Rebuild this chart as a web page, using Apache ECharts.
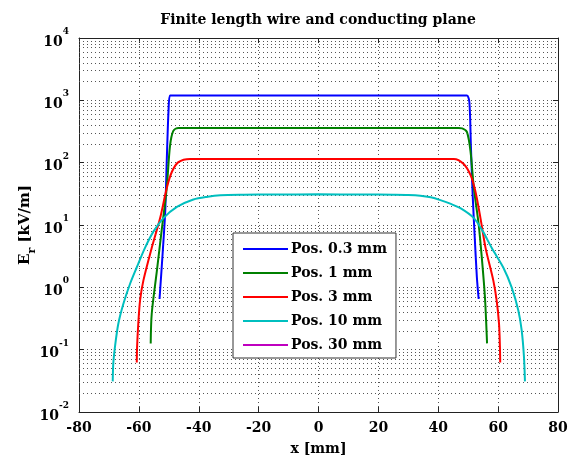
<!DOCTYPE html>
<html>
<head>
<meta charset="utf-8">
<script src="https://cdn.jsdelivr.net/npm/echarts@6/dist/echarts.min.js"></script>
<style>
  html, body { margin: 0; padding: 0; background: #fff; }
  #chart { width: 575px; height: 461px; }
</style>
</head>
<body>
<div id="chart"></div>
<script>
// Radial field along the wire for several probe positions
const seriesNames = ['Pos. 0.3 mm', 'Pos. 1 mm', 'Pos. 3 mm', 'Pos. 10 mm', 'Pos. 30 mm'];
const seriesColors = ['#0000ff', '#008000', '#ff0000', '#00bfbf', '#bf00bf'];

const xPos03 = [-53.1, -52.0, -51.2, -50.7, -50.1, -49.6, -48.5, 0, 48.5, 49.6, 50.4, 50.9, 51.5, 52.2, 52.9, 53.5];
const yPos03 = [0.65, 3.9, 16.6, 102, 676, 1200, 1200, 1200, 1200, 1200, 933, 186, 30, 6.2, 1.45, 0.65];

const xPos1 = [-56.05, -55.7, -54.0, -52.3, -50.7, -49.6, -48.5, -46.8, 0, 46.8, 48.0, 49.6, 50.8, 51.9, 53.5, 54.6, 55.6, 56.3];
const yPos1 = [0.126, 0.38, 1.82, 8.9, 38.9, 186, 324, 360, 360, 360, 355, 309, 148, 38.9, 10.2, 2.8, 0.69, 0.126];

const xPos3 = [-60.7, -60.6, -60.2, -59.6, -58.5, -55.7, -52.9, -50.7, -49.0, -46.8, -42.9, 0,
  45.2, 48.5, 50.8, 52.4, 54.1, 55.8, 58.4, 59.5, 60.3, 60.6, 60.7];
const yPos3 = [0.062, 0.11, 0.26, 0.62, 1.28, 4.3, 12.9, 38.9, 70.8, 102, 115, 115,
  115, 95.5, 63, 34.7, 12.9, 4.3, 1.28, 0.62, 0.26, 0.11, 0.062];

const xPos10 = [-68.74, -68.54, -67.98, -66.87, -65.2, -62.97, -60.73, -57.96, -55.1, -51.8, -47.3, -41.8, -37.0, -32.8, -25, -15, 0,
  15, 25, 30, 34.0, 37.5, 40.7, 44.0, 47.4, 51.9, 54.9, 57.84, 61.72, 64.52, 66.73, 67.86, 68.63, 68.96];
const yPos10 = [0.031, 0.061, 0.112, 0.26, 0.54, 1.13, 2.08, 4.3, 7.9, 12.9, 19.5, 25.7, 28.5, 30.0, 30.6, 30.9, 31,
  30.9, 30.6, 30.3, 29.5, 27.8, 25.1, 22.0, 18.6, 12.9, 7.9, 4.3, 2.08, 1.0, 0.43, 0.205, 0.077, 0.031];

const xPos30 = [];
const yPos30 = [];

const decades = [-2, -1, 0, 1, 2, 3, 4];

const xs = [xPos03, xPos1, xPos3, xPos10, xPos30];
const ys = [yPos03, yPos1, yPos3, yPos10, yPos30];

// minor log grid lines at 2..9 x 10^k
const minorValues = [];
decades.slice(0, -1).forEach(function (k) {
  for (let m = 2; m <= 9; m++) minorValues.push(m * Math.pow(10, k));
});

const FONT = 'DejaVu Serif';
const dotted = { color: '#555', width: 1, type: [1, 3] };

const series = seriesNames.map(function (name, i) {
  const s = {
    name: name,
    type: 'line',
    xAxisIndex: 0,
    yAxisIndex: 0,
    symbol: 'none',
    smooth: 0.3,
    lineStyle: { color: seriesColors[i], width: 2 },
    itemStyle: { color: seriesColors[i] },
    data: xs[i].map(function (x, j) { return [x, ys[i][j]]; }),
    z: 3
  };
  if (i === 0) {
    s.markLine = {
      silent: true,
      symbol: 'none',
      label: { show: false },
      lineStyle: dotted,
      z: 1,
      animation: false,
      data: minorValues.map(function (v) { return { yAxis: v }; })
    };
  }
  return s;
});

const chart = echarts.init(document.getElementById('chart'));
chart.setOption({
  animation: false,
  backgroundColor: '#fff',
  title: {
    text: 'Finite length wire and conducting plane',
    left: 318,
    textAlign: 'center',
    top: 13,
    padding: 0,
    textStyle: { fontFamily: FONT, fontSize: 14, fontWeight: 'bold', color: '#000' }
  },
  grid: { left: 79, right: 17, top: 38, bottom: 45 },
  legend: {
    data: seriesNames,
    orient: 'vertical',
    left: 233,
    top: 233,
    padding: [9, 9, 6, 9],
    itemWidth: 45,
    itemHeight: 14,
    itemGap: 10,
    itemStyle: { opacity: 0 },
    backgroundColor: '#fff',
    borderColor: '#333',
    borderWidth: 1,
    borderRadius: 0,
    z: 10,
    textStyle: { fontFamily: FONT, fontSize: 14, fontWeight: 'bold', color: '#000', padding: [0, 0, 0, -2] }
  },
  xAxis: [
    {
      type: 'value', min: -80, max: 80, interval: 20, position: 'bottom',
      name: 'x [mm]', nameLocation: 'middle', nameGap: 30,
      nameTextStyle: { fontFamily: FONT, fontSize: 14, fontWeight: 'bold', color: '#000' },
      axisLine: { show: true, lineStyle: { color: '#222', width: 1 } },
      axisTick: { show: true, inside: true, length: 5, lineStyle: { color: '#222' } },
      axisLabel: { margin: 9, fontFamily: FONT, fontSize: 14, fontWeight: 'bold', color: '#000' },
      splitLine: { show: true, lineStyle: dotted }
    },
    {
      type: 'value', min: -80, max: 80, interval: 20, position: 'top',
      axisLine: { show: true, onZero: false, lineStyle: { color: '#222', width: 1 } },
      axisTick: { show: true, inside: true, length: 5, lineStyle: { color: '#222' } },
      axisLabel: { show: false },
      splitLine: { show: false }
    }
  ],
  yAxis: [
    {
      type: 'log', logBase: 10, min: 0.01, max: 10000, position: 'left',
      name: '{n|E}{s|r}{n| [kV/m]}', nameLocation: 'middle', nameGap: 41,
      nameMoveOverlap: false,
      nameRotate: 90,
      nameTextStyle: {
        rich: {
          n: { fontFamily: FONT, fontSize: 15, fontWeight: 'bold', color: '#000', verticalAlign: 'top', lineHeight: 20 },
          s: { fontFamily: FONT, fontSize: 11, fontWeight: 'bold', color: '#000', verticalAlign: 'bottom', lineHeight: 20 }
        }
      },
      axisLine: { show: true, onZero: false, lineStyle: { color: '#222', width: 1 } },
      axisTick: { show: true, inside: true, length: 5, lineStyle: { color: '#222' } },
      axisLabel: {
        margin: 10,
        formatter: function (v) {
          const e = Math.round(Math.log10(v));
          return '{b|10}{e|' + e + '}';
        },
        rich: {
          b: { fontFamily: FONT, fontSize: 14, fontWeight: 'bold', color: '#000', verticalAlign: 'bottom', lineHeight: 22 },
          e: { fontFamily: FONT, fontSize: 9, fontWeight: 'bold', color: '#000', verticalAlign: 'top', lineHeight: 22 }
        }
      },
      splitLine: { show: true, lineStyle: dotted }
    },
    {
      type: 'log', logBase: 10, min: 0.01, max: 10000, position: 'right',
      axisLine: { show: true, onZero: false, lineStyle: { color: '#222', width: 1 } },
      axisTick: { show: true, inside: true, length: 5, lineStyle: { color: '#222' } },
      axisLabel: { show: false },
      splitLine: { show: false }
    }
  ],
  series: series
});
</script>
</body>
</html>
